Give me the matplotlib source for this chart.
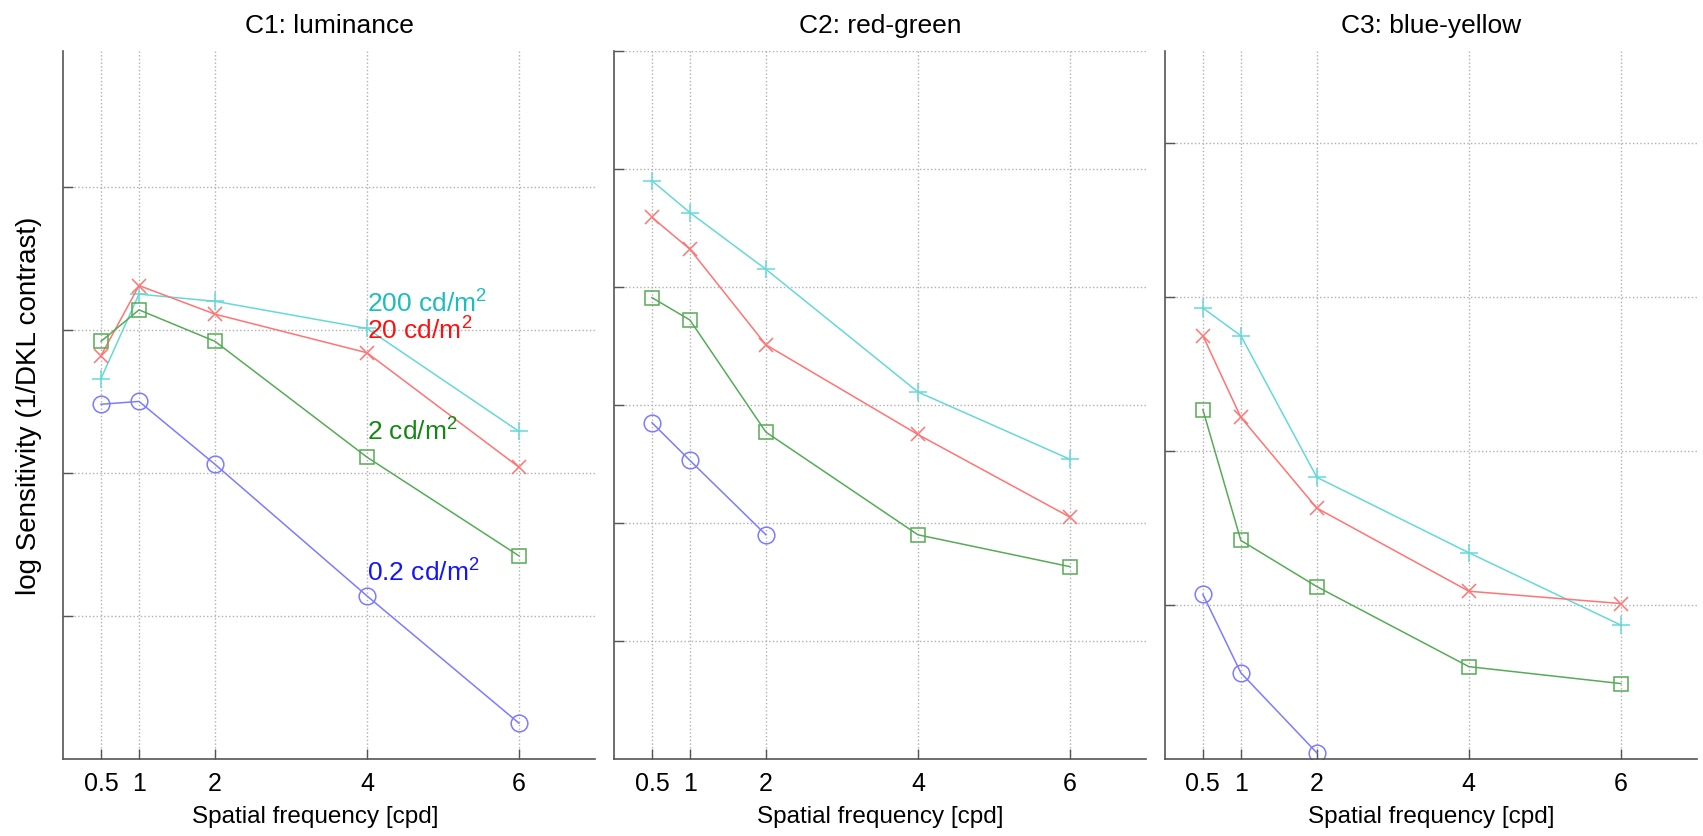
import matplotlib
matplotlib.use('Agg')
import matplotlib.pyplot as plt

plt.rcParams['font.family'] = ['Liberation Sans', 'DejaVu Sans']
plt.rcParams['mathtext.fontset'] = 'custom'
plt.rcParams['mathtext.rm'] = 'Liberation Sans'
plt.rcParams['mathtext.it'] = 'Liberation Sans:italic'

# spatial frequencies [cpd]
freq = [0.5, 1, 2, 4, 6]
freq_low = [0.5, 1, 2]

# log sensitivity, arbitrary units (one grid step = 1)
c1_200 = [2.66, 3.25, 3.20, 3.01, 2.29]
c1_20 = [2.82, 3.31, 3.11, 2.84, 2.04]
c1_2 = [2.92, 3.14, 2.92, 2.11, 1.42]
c1_02 = [2.48, 2.50, 2.06, 1.14, 0.25]

c2_200 = [4.90, 4.63, 4.15, 3.11, 2.54]
c2_20 = [4.59, 4.32, 3.51, 2.75, 2.05]
c2_2 = [3.91, 3.72, 2.77, 1.90, 1.63]
c2_02 = [2.85, 2.53, 1.90]

c3_200 = [2.93, 2.75, 1.83, 1.34, 0.87]
c3_20 = [2.75, 2.22, 1.63, 1.09, 1.01]
c3_2 = [2.27, 1.42, 1.12, 0.60, 0.49]
c3_02 = [1.07, 0.56, 0.04]

titles = ['C1: luminance', 'C2: red-green', 'C3: blue-yellow']
ylims = [4.95, 6.0, 4.6]
yticks = [[1, 2, 3, 4], [1, 2, 3, 4, 5, 6], [1, 2, 3, 4]]

lum_labels = ['200 cd/m$^2$', '20 cd/m$^2$', '2 cd/m$^2$', '0.2 cd/m$^2$']
label_y = [3.19, 3.00, 2.29, 1.31]

line_cols = ['#66d8d8', '#ff7474', '#56ab56', '#7c7cff']
text_cols = ['#1cbdbd', '#ff1010', '#138813', '#1414ff']
markers = ['+', 'x', 's', 'o']
msizes = [13, 10, 10.5, 12]

data = [
    [c1_200, c1_20, c1_2, c1_02],
    [c2_200, c2_20, c2_2, c2_02],
    [c3_200, c3_20, c3_2, c3_02],
]

fig = plt.figure(figsize=(17.03, 8.37), dpi=100)
lefts = [0.037, 0.3605, 0.684]
axes = []
for i in range(3):
    ax = fig.add_axes([lefts[i], 0.092, 0.3124, 0.8459])
    axes.append(ax)
    for j, series in enumerate(data[i]):
        xs = freq if len(series) == len(freq) else freq_low
        ax.plot(xs, series, color=line_cols[j], lw=1.1, marker=markers[j],
                ms=msizes[j], mfc='none', mec=line_cols[j], mew=1.1)
    ax.set_xlim(0, 7)
    ax.set_ylim(0, ylims[i])
    ax.set_xticks(freq)
    ax.set_xticklabels(['0.5', '1', '2', '4', '6'])
    ax.set_yticks(yticks[i])
    ax.set_yticklabels([])
    ax.grid(True, linestyle=':', color='#b0b0b0', lw=1.0)
    ax.set_axisbelow(True)
    for s in ['top', 'right']:
        ax.spines[s].set_visible(False)
    for s in ['left', 'bottom']:
        ax.spines[s].set_color('#555555')
        ax.spines[s].set_linewidth(1.2)
    ax.tick_params(direction='in', length=7, width=1, colors='#555555',
                   labelcolor='black', labelsize=18, pad=9)
    ax.set_title(titles[i], fontsize=19, pad=14)
    ax.set_xlabel('Spatial frequency [cpd]', fontsize=17.5, labelpad=7)

axes[0].xaxis.label.set_x(0.474)
axes[0].set_ylabel('log Sensitivity (1/DKL contrast)', fontsize=20, labelpad=6)

for lab, yv, col in zip(lum_labels, label_y, text_cols):
    axes[0].text(4.0, yv, lab, color=col, fontsize=19, ha='left', va='center')

fig.savefig('out.png', dpi=100)
